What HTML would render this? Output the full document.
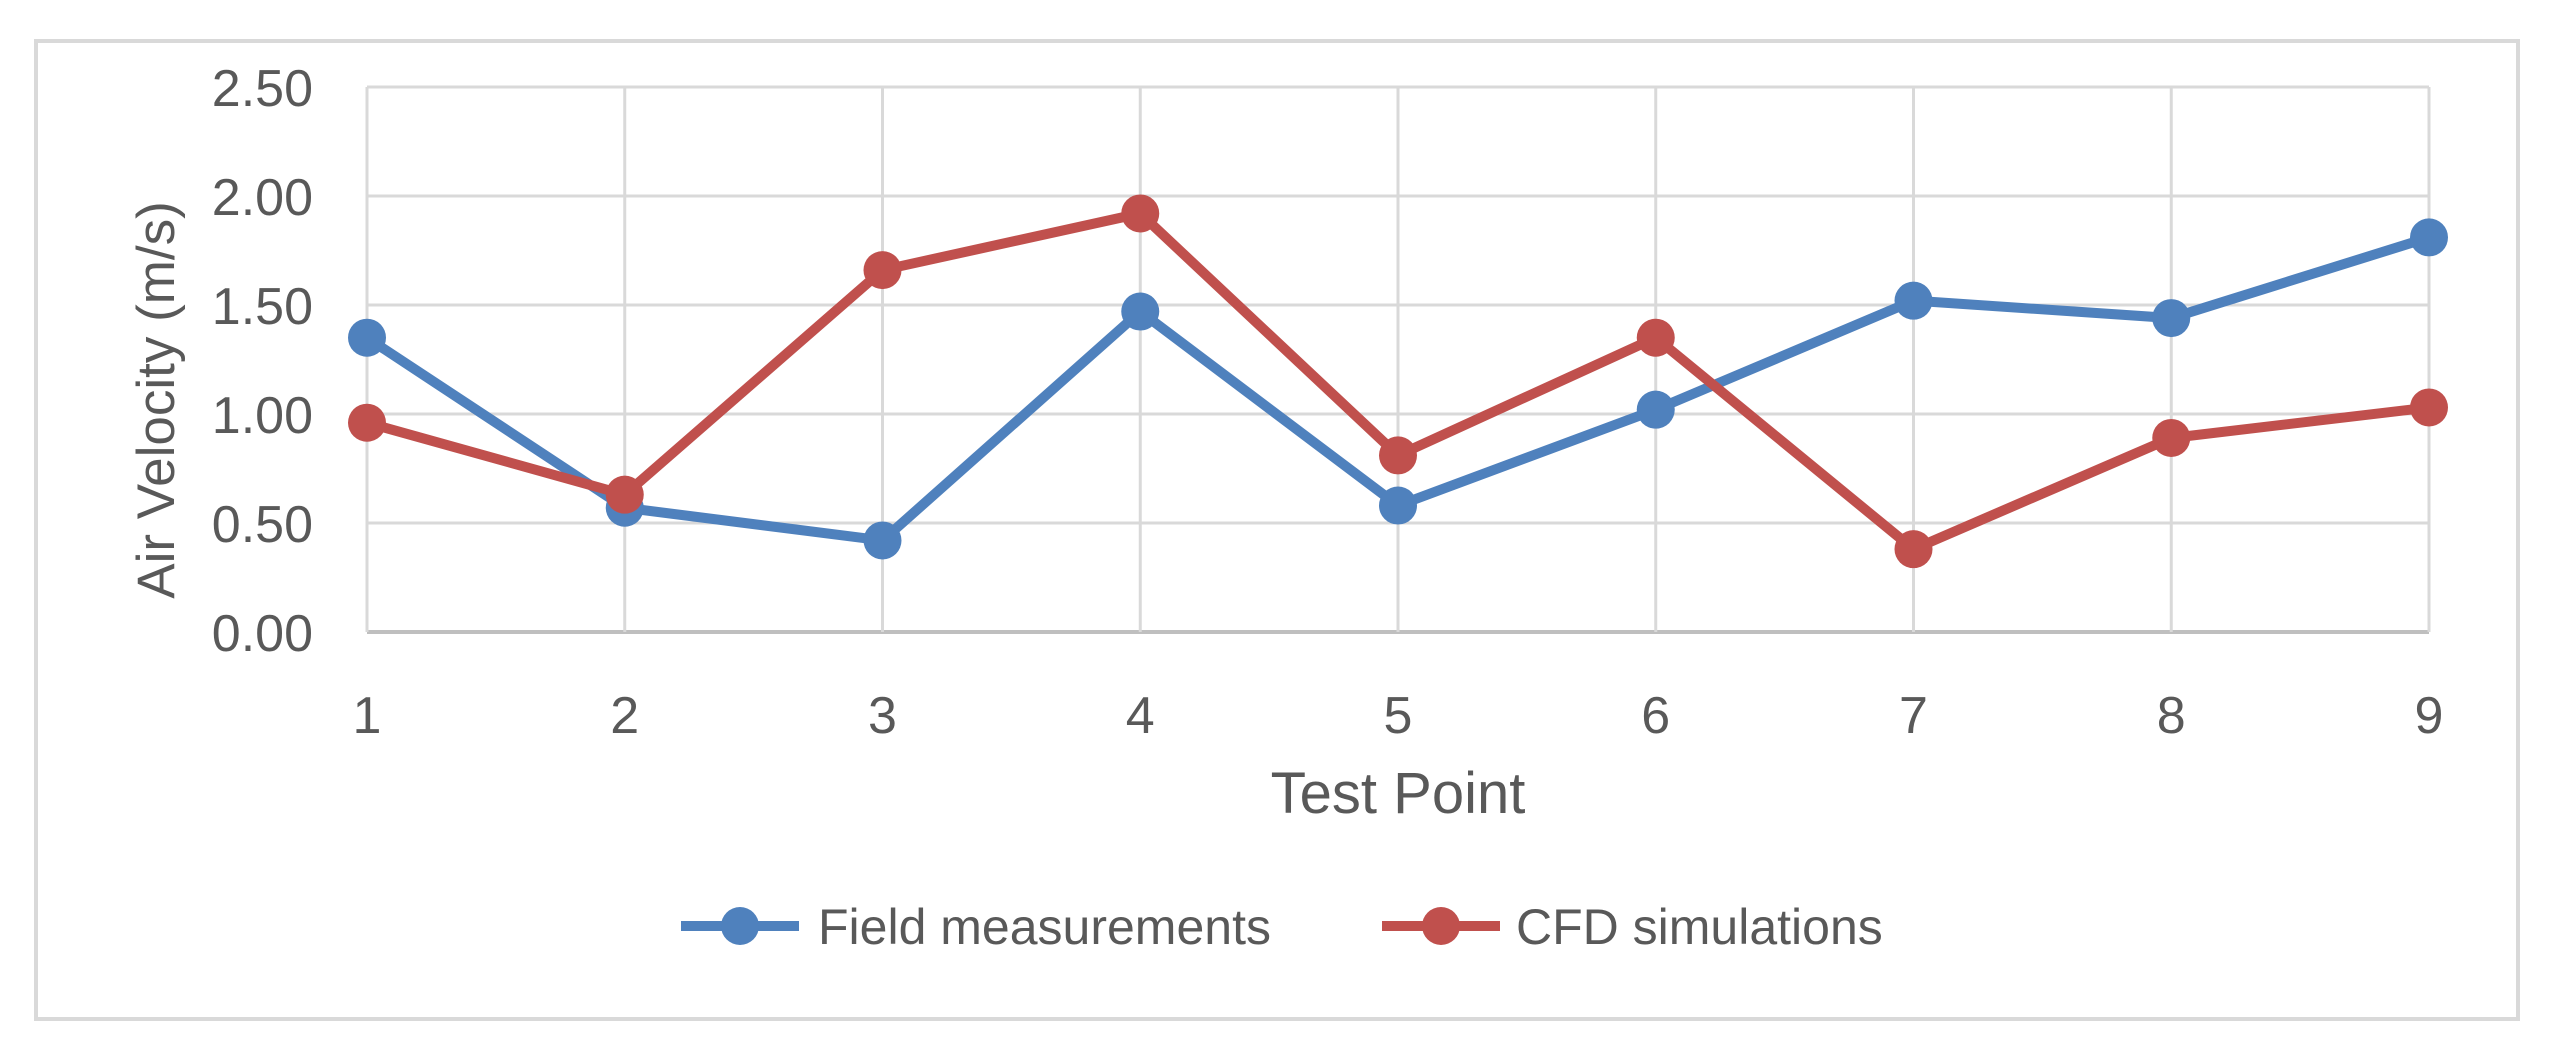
<!DOCTYPE html>
<html><head><meta charset="utf-8"><style>
html,body{margin:0;padding:0;background:#fff;}
svg text{font-family:"Liberation Sans",sans-serif;fill:#595959;}
</style></head><body>
<svg id="chart" width="2556" height="1050" viewBox="0 0 2556 1050" xmlns="http://www.w3.org/2000/svg">
<rect x="36" y="41" width="2482" height="978" fill="#fff" stroke="#d9d9d9" stroke-width="4"/>
<g id="grid"></g>
<g id="axes"></g>
<g id="series"></g>
<text x="160" y="400" font-size="53" text-anchor="middle" transform="rotate(-90 160 400)" dominant-baseline="middle">Air Velocity (m/s)</text>
<text x="1398" y="813" font-size="58" text-anchor="middle">Test Point</text>
<g>
<g>
<line x1="681" y1="926" x2="799" y2="926" stroke="#4f81bd" stroke-width="10"/>
<circle cx="740" cy="926" r="19" fill="#4f81bd"/>
<text x="818" y="944" font-size="50">Field measurements</text>
</g>
<g>
<line x1="1382" y1="926" x2="1500" y2="926" stroke="#c0504d" stroke-width="10"/>
<circle cx="1441" cy="926" r="19" fill="#c0504d"/>
<text x="1516" y="944" font-size="50">CFD simulations</text>
</g>
</g>
</svg>
<script>
const categories = [1,2,3,4,5,6,7,8,9];
const fieldValues = [1.35,0.57,0.42,1.47,0.58,1.02,1.52,1.44,1.81];
const cfdValues = [0.96,0.63,1.66,1.92,0.81,1.35,0.38,0.89,1.03];
const yTicks = [0,0.5,1,1.5,2,2.5];
const yTickLabels = ["0.00","0.50","1.00","1.50","2.00","2.50"];

const NS="http://www.w3.org/2000/svg";
const X0=367,X1=2429,Y0=632,Y1=87;
function xScale(i){return X0+(X1-X0)*i/(categories.length-1);}
function yScale(v){return Y0-(Y0-Y1)*v/2.5;}
function mk(tag,attrs,parent){const e=document.createElementNS(NS,tag);for(const k in attrs)e.setAttribute(k,attrs[k]);parent.appendChild(e);return e;}
const grid=document.getElementById('grid'),axes=document.getElementById('axes'),series=document.getElementById('series');
yTicks.forEach((t,i)=>{
  const l=mk('line',{x1:X0,x2:X1,y1:yScale(t),y2:yScale(t),stroke:t===0?'#bfbfbf':'#d9d9d9','stroke-width':t===0?4:3},grid);
  
  
  const tx=mk('text',{x:313,y:yScale(t)+19,'font-size':52,'text-anchor':'end'},axes);
  tx.textContent=yTickLabels[i];
  
  
});
categories.forEach((c,i)=>{
  const l=mk('line',{x1:xScale(i),x2:xScale(i),y1:Y1,y2:Y0,stroke:'#d9d9d9','stroke-width':3},grid);
  
  
  const tx=mk('text',{x:xScale(i),y:733,'font-size':52,'text-anchor':'middle'},axes);
  tx.textContent=String(c);
  
  
});
function drawSeries(vals,color,name){
  const pts=vals.map((v,i)=>xScale(i)+','+yScale(v)).join(' ');
  const pl=mk('polyline',{points:pts,fill:'none',stroke:color,'stroke-width':10,'stroke-linejoin':'round'},series);
  
  
  vals.forEach((v,i)=>{
    const c=mk('circle',{cx:xScale(i),cy:yScale(v),r:19,fill:color},series);
    
    
  });
}
drawSeries(fieldValues,'#4f81bd','field-measurements');
drawSeries(cfdValues,'#c0504d','cfd-simulations');
</script>
</body></html>
